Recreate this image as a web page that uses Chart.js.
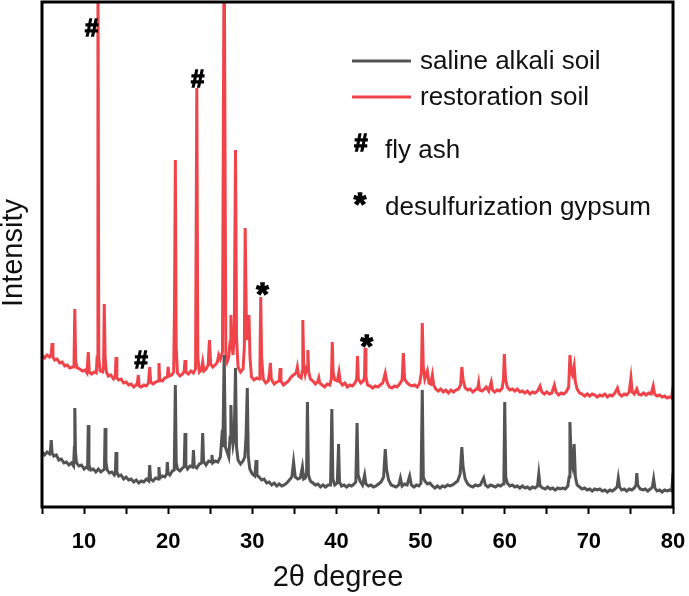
<!DOCTYPE html>
<html>
<head>
<meta charset="utf-8">
<script src="https://cdn.jsdelivr.net/npm/chart.js@4"></script>
<style>
  body { margin: 0; background: #fff; }
  #wrap { width: 689px; height: 596px; }
</style>
</head>
<body>
<div id="wrap"><canvas id="xrd" width="689" height="596"></canvas></div>
<script>
// [2theta, intensity] pairs (arbitrary units)
const salineAlkaliSoil = [
  [5.0,55],[5.3,52],[5.6,55],[5.9,53],[6.0,56],[6.1,67],[6.2,54],[6.4,51],[6.7,52],[7.0,47],
  [7.3,48],[7.6,44],[7.9,45],[8.2,42],[8.5,44],[8.75,41],[8.85,60],[8.9,99],[8.98,55],[9.1,44],
  [9.4,41],[9.7,42],[10.0,38],[10.3,40],[10.42,39],[10.5,82],[10.58,42],[10.8,37],[11.1,38],[11.4,35],
  [11.7,38],[12.0,35],[12.3,37],[12.42,38],[12.5,79],[12.6,45],[12.75,37],[13.0,34],[13.3,35],[13.6,32],
  [13.72,34],[13.8,55],[13.9,35],[14.1,31],[14.4,32],[14.7,28],[15.0,30],[15.3,27],[15.6,28],[15.9,25],
  [16.2,27],[16.5,24],[16.8,26],[17.1,25],[17.4,28],[17.7,26],[17.8,42],[17.9,28],[18.2,26],[18.5,29],
  [18.8,28],[18.9,40],[19.0,29],[19.3,31],[19.6,30],[19.82,33],[19.9,45],[19.98,34],[20.2,32],[20.5,36],
  [20.72,37],[20.85,122],[20.95,45],[21.1,38],[21.4,36],[21.7,39],[21.9,40],[22.0,74],[22.1,42],[22.3,38],
  [22.6,41],[22.9,40],[23.0,57],[23.1,41],[23.4,39],[23.7,43],[23.98,44],[24.1,74],[24.2,46],[24.5,42],
  [24.8,46],[25.1,45],[25.2,52],[25.3,44],[25.6,46],[25.9,45],[26.2,50],[26.35,67],[26.5,60],[26.65,152],
  [26.8,60],[27.0,55],[27.2,50],[27.35,70],[27.45,102],[27.55,75],[27.7,62],[27.85,70],[28.0,139],[28.12,60],
  [28.3,47],[28.6,43],[28.9,46],[29.1,50],[29.25,70],[29.4,119],[29.52,50],[29.7,38],[30.0,33],[30.3,31],
  [30.45,47],[30.55,32],[30.8,30],[31.1,27],[31.4,28],[31.7,24],[32.0,25],[32.3,22],[32.6,24],[32.9,21],
  [33.2,23],[33.5,21],[33.8,22],[34.1,24],[34.4,27],[34.7,30],[34.9,45],[35.1,30],[35.4,28],[35.7,29],
  [35.95,40],[36.1,28],[36.3,29],[36.45,35],[36.55,105],[36.67,32],[36.9,26],[37.2,24],[37.5,22],[37.8,23],
  [38.1,20],[38.4,22],[38.7,20],[39.0,22],[39.3,22],[39.45,98],[39.57,28],[39.8,22],[40.1,24],[40.25,63],
  [40.36,25],[40.6,21],[40.9,22],[41.2,20],[41.5,22],[41.8,21],[42.1,23],[42.3,25],[42.45,84],[42.57,32],
  [42.8,26],[43.1,22],[43.35,32],[43.5,23],[43.8,21],[44.1,22],[44.4,20],[44.7,21],[45.0,23],[45.3,25],
  [45.6,30],[45.8,58],[45.95,38],[46.2,27],[46.5,22],[46.8,21],[47.1,20],[47.4,22],[47.6,29],[47.8,21],
  [48.1,23],[48.4,22],[48.7,31],[48.9,22],[49.2,20],[49.5,22],[49.8,21],[50.05,24],[50.2,117],[50.32,30],
  [50.5,26],[50.8,23],[51.1,24],[51.4,21],[51.7,19],[52.0,21],[52.3,19],[52.6,21],[52.9,20],[53.2,22],
  [53.5,21],[53.8,22],[54.1,24],[54.4,26],[54.7,33],[54.9,60],[55.05,40],[55.3,28],[55.6,23],[55.9,21],
  [56.2,20],[56.5,22],[56.8,21],[57.1,22],[57.5,29],[57.7,22],[58.0,20],[58.3,22],[58.6,21],[58.9,20],
  [59.2,22],[59.5,21],[59.8,23],[59.9,30],[60.0,105],[60.12,30],[60.3,24],[60.6,21],[60.9,22],[61.2,20],
  [61.5,21],[61.8,19],[62.1,21],[62.4,19],[62.7,20],[63.0,18],[63.3,20],[63.6,19],[63.9,21],[64.05,33],
  [64.2,21],[64.5,19],[64.8,18],[65.1,20],[65.4,18],[65.7,19],[66.0,17],[66.3,19],[66.6,18],[66.9,19],
  [67.2,18],[67.5,21],[67.65,30],[67.75,85],[67.9,45],[68.05,40],[68.25,63],[68.4,30],[68.6,22],[68.9,20],
  [69.2,18],[69.5,19],[69.8,17],[70.1,18],[70.4,16],[70.7,18],[71.0,17],[71.3,18],[71.6,16],[71.9,17],
  [72.2,15],[72.5,17],[72.8,16],[73.1,18],[73.35,20],[73.5,29],[73.65,20],[73.9,17],[74.2,18],[74.5,16],
  [74.8,18],[75.1,17],[75.4,19],[75.6,22],[75.7,34],[75.8,22],[76.1,18],[76.4,17],[76.7,18],[77.0,16],
  [77.3,18],[77.55,20],[77.7,28],[77.85,19],[78.1,16],[78.4,17],[78.7,15],[79.0,17],[79.3,16],[79.6,17],
  [79.85,16],[80.0,34]
];

const restorationSoil = [
  [5.0,152],[5.3,149],[5.6,152],[5.9,150],[6.1,153],[6.2,164],[6.3,150],[6.5,147],[6.8,148],[7.1,144],
  [7.4,145],[7.7,141],[8.0,142],[8.3,139],[8.6,140],[8.8,140],[8.9,198],[9.0,145],[9.2,139],[9.5,138],
  [9.8,136],[10.1,137],[10.35,134],[10.5,155],[10.62,135],[10.9,133],[11.2,135],[11.45,134],[11.55,150],[11.65,560],
  [11.75,150],[11.9,136],[12.2,135],[12.32,140],[12.4,203],[12.5,150],[12.65,135],[12.9,131],[13.2,132],[13.5,128],
  [13.7,130],[13.8,150],[13.9,129],[14.1,127],[14.4,128],[14.7,124],[15.0,125],[15.3,122],[15.6,123],[15.9,120],
  [16.2,122],[16.35,125],[16.45,132],[16.55,121],[16.8,120],[17.1,122],[17.4,121],[17.65,124],[17.8,140],[17.92,125],
  [18.2,123],[18.5,125],[18.8,126],[18.9,144],[19.0,127],[19.3,126],[19.6,129],[19.9,130],[20.0,140],[20.1,131],
  [20.4,132],[20.65,135],[20.75,200],[20.85,347],[20.95,160],[21.1,134],[21.4,131],[21.7,133],[21.9,136],[22.0,147],
  [22.1,135],[22.4,133],[22.7,136],[23.0,134],[23.25,138],[23.4,419],[23.52,150],[23.7,135],[23.95,137],[24.1,145],
  [24.25,136],[24.5,138],[24.75,142],[24.9,167],[25.05,143],[25.3,140],[25.6,142],[25.85,145],[26.0,152],[26.2,148],
  [26.45,155],[26.65,580],[26.85,150],[27.0,145],[27.2,150],[27.35,165],[27.45,192],[27.55,165],[27.7,152],[27.85,170],
  [28.0,357],[28.12,170],[28.3,140],[28.6,135],[28.9,138],[29.05,160],[29.15,279],[29.3,180],[29.4,167],[29.5,175],
  [29.6,192],[29.72,150],[29.9,130],[30.2,127],[30.5,129],[30.8,128],[30.9,140],[31.0,210],[31.1,150],[31.3,128],
  [31.6,124],[31.9,126],[32.05,135],[32.15,144],[32.25,128],[32.6,123],[32.9,125],[33.2,126],[33.3,139],[33.4,126],
  [33.7,122],[34.0,124],[34.3,126],[34.6,130],[34.9,132],[35.2,134],[35.35,140],[35.5,131],[35.8,129],[35.92,135],
  [36.0,187],[36.1,145],[36.3,133],[36.5,140],[36.6,157],[36.7,135],[36.9,128],[37.2,126],[37.5,123],[37.8,126],
  [37.9,129],[38.0,124],[38.3,122],[38.6,120],[38.9,123],[39.2,122],[39.4,128],[39.5,165],[39.6,135],[39.8,127],
  [40.1,126],[40.3,135],[40.45,125],[40.7,122],[41.0,124],[41.3,120],[41.6,122],[41.9,121],[42.2,124],[42.4,128],
  [42.5,151],[42.6,128],[42.9,124],[43.2,126],[43.33,130],[43.4,159],[43.5,130],[43.7,122],[44.0,121],[44.3,119],
  [44.6,121],[44.9,120],[45.2,122],[45.5,124],[45.8,134],[46.0,125],[46.3,120],[46.6,119],[46.9,121],[47.2,120],
  [47.5,123],[47.8,127],[47.95,154],[48.1,128],[48.4,124],[48.7,122],[49.0,121],[49.3,122],[49.6,120],[49.9,124],
  [50.1,135],[50.2,184],[50.32,140],[50.5,128],[50.8,136],[51.0,124],[51.2,123],[51.4,132],[51.55,122],[51.8,118],
  [52.1,116],[52.4,118],[52.7,115],[53.0,117],[53.3,114],[53.6,117],[53.9,115],[54.2,117],[54.5,118],[54.75,122],
  [54.9,140],[55.05,127],[55.3,119],[55.6,117],[55.9,118],[56.2,115],[56.5,117],[56.8,119],[56.9,124],[57.0,117],
  [57.3,116],[57.6,118],[57.8,120],[58.1,116],[58.4,125],[58.55,117],[58.8,115],[59.1,117],[59.4,116],[59.7,119],
  [59.85,128],[59.95,153],[60.1,128],[60.3,120],[60.6,117],[60.9,118],[61.2,116],[61.5,118],[61.8,115],[62.1,116],
  [62.4,114],[62.7,116],[63.0,113],[63.3,115],[63.6,114],[63.9,116],[64.2,121],[64.4,115],[64.7,113],[65.0,115],
  [65.3,113],[65.6,114],[65.9,122],[66.1,115],[66.4,112],[66.7,114],[67.0,113],[67.3,115],[67.6,120],[67.75,152],
  [67.9,135],[68.05,132],[68.25,141],[68.4,125],[68.6,118],[68.9,114],[69.2,113],[69.5,111],[69.8,113],[70.1,111],
  [70.4,113],[70.7,112],[71.0,110],[71.3,112],[71.6,111],[71.9,113],[72.2,110],[72.5,112],[72.8,111],[73.1,114],
  [73.4,119],[73.6,113],[73.9,111],[74.2,113],[74.5,112],[74.8,115],[75.0,129],[75.15,115],[75.4,113],[75.7,118],
  [75.9,113],[76.2,112],[76.5,114],[76.8,112],[77.1,114],[77.4,113],[77.65,121],[77.8,113],[78.1,111],[78.4,112],
  [78.7,110],[79.0,111],[79.3,109],[79.6,110],[79.85,109],[80.0,120]
];

// phase markers above the peaks
const markerTheta = [10.9, 23.5, 16.8, 31.2, 43.6];
const markerIntensity = [480, 429, 148, 218, 166];
const markerSymbol = ['#', '#', '#', '*', '*'];

const seriesNames = ['saline alkali soil', 'restoration soil'];
const seriesColors = ['#545454', '#f0444a'];

const toPoints = arr => arr.map(p => ({ x: p[0], y: p[1] }));

// heavy symbol centred on its ink
function symbol(ctx, s, cx, cy) {
    ctx.font = s === '#' ? 'bold 24px "Liberation Sans"' : 'bold 32px "Liberation Sans"';
    const m = ctx.measureText(s);
    ctx.textAlign = 'center';
    ctx.textBaseline = 'alphabetic';
    const by = cy + (m.actualBoundingBoxAscent - m.actualBoundingBoxDescent) / 2;
    ctx.fillStyle = '#000';
    ctx.strokeStyle = '#000';
    ctx.lineWidth = 1.3;
    ctx.fillText(s, cx, by);
    ctx.strokeText(s, cx, by);
}

const decor = {
    id: 'decor',
    afterDraw(chart) {
        const { ctx, chartArea: a, scales } = chart;
        ctx.save();
        // frame
        ctx.strokeStyle = '#000';
        ctx.lineWidth = 3;
        ctx.strokeRect(a.left, a.top, a.right - a.left, a.bottom - a.top);

        markerSymbol.forEach((s, i) => {
            symbol(ctx, s, scales.x.getPixelForValue(markerTheta[i]), scales.y.getPixelForValue(markerIntensity[i]));
        });

        // legend
        [61, 97].forEach((ly, i) => {
            ctx.strokeStyle = seriesColors[i];
            ctx.lineWidth = 3;
            ctx.beginPath();
            ctx.moveTo(352, ly);
            ctx.lineTo(411, ly);
            ctx.stroke();
            ctx.fillStyle = '#111';
            ctx.font = '26px "Liberation Sans"';
            ctx.textAlign = 'left';
            ctx.textBaseline = 'middle';
            ctx.fillText(seriesNames[i], 420, ly + 1);
        });
        symbol(ctx, '#', 361, 149);
        symbol(ctx, '*', 360, 199);
        ctx.fillStyle = '#111';
        ctx.font = '26px "Liberation Sans"';
        ctx.textAlign = 'left';
        ctx.textBaseline = 'middle';
        ctx.fillText('fly ash', 385, 151);
        ctx.fillText('desulfurization gypsum', 385, 208);

        // axis titles
        ctx.font = '29px "Liberation Sans"';
        ctx.textAlign = 'center';
        ctx.fillText('2θ degree', 338, 578);
        ctx.translate(14, 253);
        ctx.rotate(-Math.PI / 2);
        ctx.fillText('Intensity', 0, 0);
        ctx.restore();
    }
};

new Chart(document.getElementById('xrd'), {
    type: 'line',
    data: {
        datasets: [
            {
                label: seriesNames[0],
                data: toPoints(salineAlkaliSoil),
                borderColor: seriesColors[0],
                borderWidth: 3,
                pointRadius: 0,
                tension: 0
            },
            {
                label: seriesNames[1],
                data: toPoints(restorationSoil),
                borderColor: seriesColors[1],
                borderWidth: 3,
                pointRadius: 0,
                tension: 0
            }
        ]
    },
    options: {
        responsive: false,
        animation: false,
        layout: { padding: { left: 42, right: 16, top: 2, bottom: 0 } },
        plugins: { legend: { display: false }, tooltip: { enabled: false } },
        scales: {
            x: {
                type: 'linear',
                min: 5,
                max: 80,
                border: { display: false },
                grid: { drawOnChartArea: false, drawTicks: true, tickLength: 7, tickWidth: 2, tickColor: '#000' },
                ticks: {
                    stepSize: 5,
                    autoSkip: false,
                    maxRotation: 0,
                    padding: 15,
                    color: '#000',
                    font: { family: 'Liberation Sans', size: 22, weight: 'bold' },
                    callback: v => (v % 10 === 0 ? v : '')
                },
                afterFit: scale => {
                    scale.height = 89;
                    scale.paddingLeft = 0;
                    scale.paddingRight = 0;
                }
            },
            y: {
                display: false,
                min: 0,
                max: 505
            }
        }
    },
    plugins: [decor]
});
</script>
</body>
</html>
